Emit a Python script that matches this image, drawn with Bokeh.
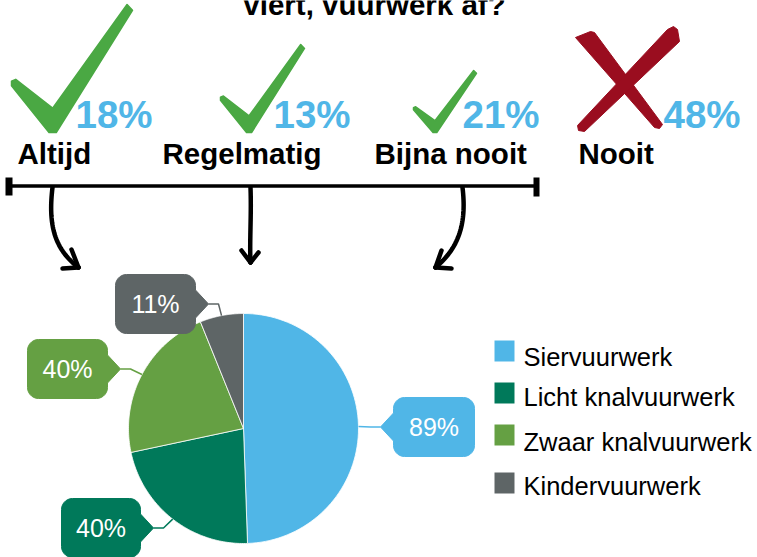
import numpy as np
from bokeh.plotting import figure
from bokeh.models import Range1d
from bokeh.core.properties import value
from bokeh.embed import file_html
from bokeh.resources import INLINE

# ---------------- data ----------------
title_line = "viert, vuurwerk af?"
freq_labels = ["Altijd", "Regelmatig", "Bijna nooit", "Nooit"]
freq_pct = [18, 13, 21, 48]

categories = ["Siervuurwerk", "Licht knalvuurwerk", "Zwaar knalvuurwerk", "Kindervuurwerk"]
pie_values = [89, 40, 40, 11]
pie_colors = ["#50b6e7", "#00795a", "#65a043", "#5e6566"]

# ---------------- layout / style ----------------
FONT = value("Liberation Sans")
BLUE_TXT = "#50b6e7"
GREEN = "#4aa843"
RED = "#9a0d1f"
MID = 0.35  # baseline -> middle offset, in em

W, H = 757, 557
p = figure(width=W, height=H, output_backend="svg", toolbar_location=None,
           x_range=Range1d(0, W), y_range=Range1d(H, 0),
           min_border=0, outline_line_color=None)
p.axis.visible = False
p.grid.visible = False
p.background_fill_color = "white"
p.border_fill_color = "white"

# title (last line, cut at top)
p.text(x=[374], y=[14 - MID * 29.5], text=[title_line], text_font=FONT, text_font_style="bold",
       text_font_size="29.5px", text_align="center", text_baseline="middle",
       text_color="black")

# check marks
check_tpl = [(0.00, 0.60), (0.035, 0.585), (0.34, 0.81), (0.955, 0.0), (1.0, 0.045),
             (0.37, 1.0), (0.31, 1.0), (0.0, 0.635)]
check_boxes = [(11, 4, 121, 128), (220, 44, 84, 88), (413, 70, 63, 62)]
cxs, cys = [], []
for (x0, y0, w, h) in check_boxes:
    cxs.append([x0 + px * w for px, py in check_tpl])
    cys.append([y0 + py * h for px, py in check_tpl])
p.patches(cxs, cys, fill_color=GREEN, line_color=GREEN, line_width=1.5, line_join="round")

# cross
cross_a = [(575, 37), (590, 31), (594, 32), (662, 124), (659, 128), (654, 127)]
cross_b = [(667, 29), (673, 26), (677, 29), (679, 41), (584, 131), (578, 130), (577, 125)]
p.patches([[q[0] for q in cross_a], [q[0] for q in cross_b]],
          [[q[1] for q in cross_a], [q[1] for q in cross_b]],
          fill_color=RED, line_color=RED, line_width=1, line_join="round")

# percentages and labels
pct_x = [75, 273, 462, 663]
label_x = [17, 162, 374, 578]
p.text(x=pct_x, y=[127 - MID * 38.5] * 4, text=[f"{v}%" for v in freq_pct], text_font=FONT,
       text_font_style="bold", text_font_size="38.5px", text_color=BLUE_TXT,
       text_baseline="middle", text_align="left")
p.text(x=label_x, y=[163 - MID * 29.5] * 4, text=freq_labels, text_font=FONT,
       text_font_style="bold", text_font_size="29.5px", text_color="black",
       text_baseline="middle", text_align="left")

# timeline
p.line([8, 537], [185.5, 185.5], line_color="black", line_width=3.5)
p.quad(left=[5, 533], right=[12, 539], top=[177, 177], bottom=[195, 196],
       fill_color="black", line_color=None)


def bez(p0, p1, p2, p3, n=40):
    t = np.linspace(0, 1, n)
    pts = [np.array(q, dtype=float) for q in (p0, p1, p2, p3)]
    c = ((1 - t) ** 3)[:, None] * pts[0] + (3 * (1 - t) ** 2 * t)[:, None] * pts[1] \
        + (3 * (1 - t) * t ** 2)[:, None] * pts[2] + (t ** 3)[:, None] * pts[3]
    return c[:, 0], c[:, 1]


arrows = [
    ((52, 187), (47, 228), (56, 250), (78, 267), [(71, 249), (62, 268)]),
    ((250, 187), (251, 215), (249, 240), (250, 262), [(241, 250), (258, 252)]),
    ((462, 187), (467, 228), (455, 250), (435, 267), [(441, 250), (451, 268)]),
]
for a0, a1, a2, a3, barbs in arrows:
    bx, by = bez(a0, a1, a2, a3)
    p.line(bx, by, line_color="black", line_width=4.5, line_cap="round", line_join="round")
    for b in barbs:
        p.line([b[0], a3[0]], [b[1], a3[1]], line_color="black", line_width=4.5,
               line_cap="round")

# pie
CX, CY, R = 243, 428, 115
total = float(sum(pie_values))
cum = np.cumsum([0] + pie_values) / total * 2 * np.pi
wx, wy = [], []
mids = []
for i in range(len(pie_values)):
    th = np.linspace(cum[i], cum[i + 1], 80)
    wx.append([CX] + list(CX + R * np.sin(th)))
    wy.append([CY] + list(CY - R * np.cos(th)))
    m = (cum[i] + cum[i + 1]) / 2
    mids.append((CX + R * np.sin(m), CY - R * np.cos(m)))
p.patches(wx, wy, fill_color=pie_colors, line_color="white", line_width=0.8)


# callouts
def rounded_box(x0, y0, x1, y1, r, side, ph=14, pl=13):
    pts = []
    def arc(cx, cy, a0, a1):
        for a in np.linspace(np.radians(a0), np.radians(a1), 8):
            pts.append((cx + r * np.cos(a), cy + r * np.sin(a)))
    ym = (y0 + y1) / 2
    arc(x1 - r, y0 + r, -90, 0)
    if side == "right":
        pts += [(x1, ym - ph), (x1 + pl, ym), (x1, ym + ph)]
    arc(x1 - r, y1 - r, 0, 90)
    arc(x0 + r, y1 - r, 90, 180)
    if side == "left":
        pts += [(x0, ym + ph), (x0 - pl, ym), (x0, ym - ph)]
    arc(x0 + r, y0 + r, 180, 270)
    tip = (x1 + pl, ym) if side == "right" else (x0 - pl, ym)
    return [q[0] for q in pts], [q[1] for q in pts], tip


callout_boxes = [(393, 397, 474, 456, "left"), (61, 498, 140, 557, "right"),
                 (27, 339, 107, 398, "right"), (115, 274, 195, 333, "right")]
bxs, bys, tx, ty = [], [], [], []
for i, (x0, y0, x1, y1, side) in enumerate(callout_boxes):
    xs, ys, tip = rounded_box(x0, y0, x1, y1, 11, side)
    bxs.append(xs)
    bys.append(ys)
    tx.append((x0 + x1) / 2)
    ty.append((y0 + y1) / 2)
    d = 10 if side == "right" else -10
    mx, my = mids[i]
    p.line([tip[0], tip[0] + d, mx], [tip[1], tip[1], my], line_color=pie_colors[i],
           line_width=1.5)
p.patches(bxs, bys, fill_color=pie_colors, line_color=pie_colors, line_width=1)
callout_text = ["89%", "40%", "40%", "11%"]
p.text(x=tx, y=ty, text=callout_text, text_font=FONT, text_font_size="25px",
       text_color="white", text_align="center", text_baseline="middle")

# legend
leg_y = [350.5, 392.5, 434.5, 482.5]
leg_base = [365, 405, 450, 494]
p.rect(x=[504] * 4, y=leg_y, width=20, height=21, fill_color=pie_colors, line_color=None)
p.text(x=[523] * 4, y=[b - MID * 25.5 for b in leg_base], text=categories, text_font=FONT,
       text_font_size="25.5px", text_color="black", text_align="left",
       text_baseline="middle")

open("out.html", "w").write(file_html(p, INLINE))
